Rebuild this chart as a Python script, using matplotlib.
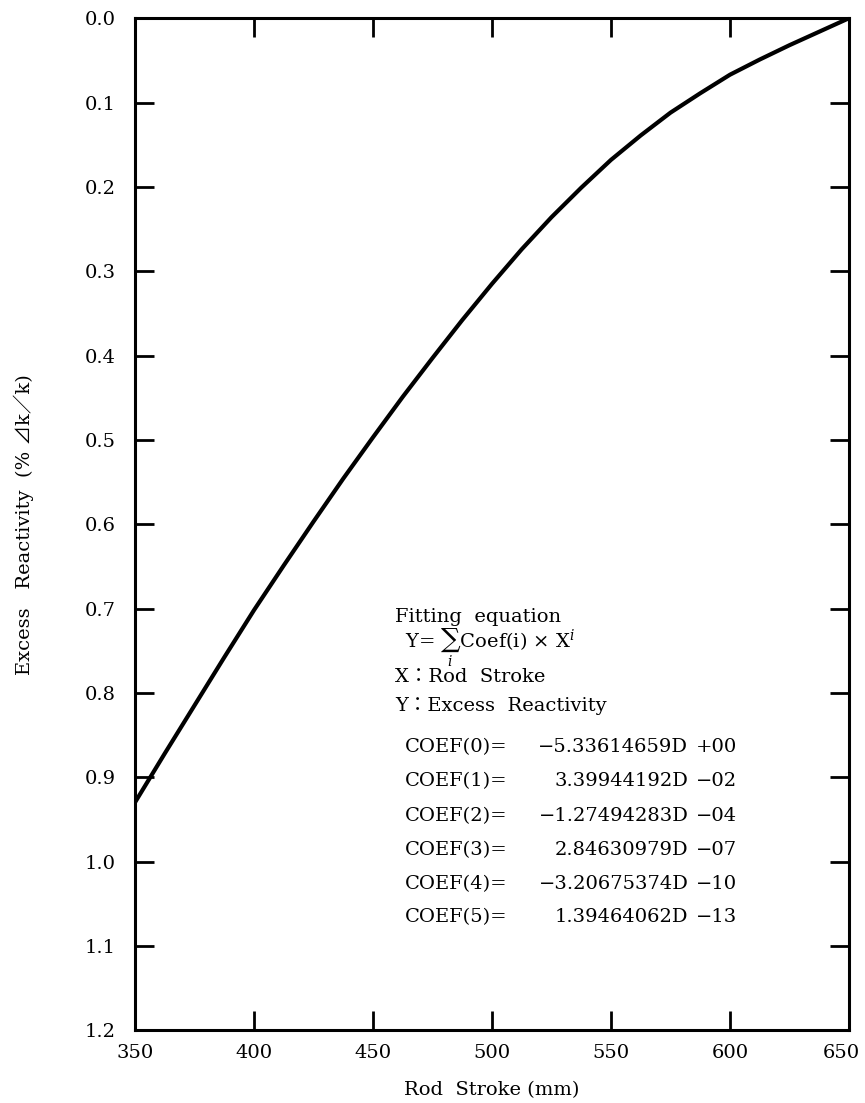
import matplotlib
matplotlib.use('Agg')
import matplotlib.pyplot as plt
import matplotlib.transforms as mtransforms

plt.rcParams['font.family'] = ['DejaVu Serif', 'Noto Sans CJK JP']
plt.rcParams['mathtext.fontset'] = 'dejavuserif'

# curve (rod stroke mm, excess reactivity %dk/k)
stroke = [350, 362.5, 375, 387.5, 400, 412.5, 425, 437.5, 450, 462.5, 475, 487.5,
          500, 512.5, 525, 537.5, 550, 562.5, 575, 587.5, 600, 612.5, 625, 637.5, 650]
reactivity = [0.930, 0.872, 0.815, 0.758, 0.702, 0.649, 0.597, 0.546, 0.497, 0.449,
              0.403, 0.358, 0.315, 0.274, 0.236, 0.201, 0.168, 0.139, 0.112, 0.089,
              0.067, 0.049, 0.032, 0.016, 0.000]

x_ticks = [350, 400, 450, 500, 550, 600, 650]
y_ticks = [0.0, 0.1, 0.2, 0.3, 0.4, 0.5, 0.6, 0.7, 0.8, 0.9, 1.0, 1.1, 1.2]

coef_names = ['COEF(0)=', 'COEF(1)=', 'COEF(2)=', 'COEF(3)=', 'COEF(4)=', 'COEF(5)=']
coef_mant = ['\u22125.33614659D', '3.39944192D', '\u22121.27494283D',
             '2.84630979D', '\u22123.20675374D', '1.39464062D']
coef_exp = ['+00', '\u221202', '\u221204', '\u221207', '\u221210', '\u221213']

fig = plt.figure(figsize=(8.65, 11.03), dpi=100)
ax = fig.add_axes([0.156, 0.066, 0.8255, 0.9175])

ax.plot(stroke, reactivity, color='black', lw=3.0, solid_capstyle='round')

ax.set_xlim(350, 650)
ax.set_ylim(1.2, 0.0)
ax.set_xticks(x_ticks)
ax.set_yticks(y_ticks)
ax.set_xticklabels([str(v) for v in x_ticks])
ax.set_yticklabels([f'{v:.1f}' for v in y_ticks])

for s in ax.spines.values():
    s.set_linewidth(2.2)

ax.tick_params(axis='both', direction='in', length=14, width=2.0,
               top=True, right=True, labelsize=14)
ax.tick_params(axis='x', pad=10)
ax.tick_params(axis='y', pad=14)

# keep the last x label inside the figure
last = ax.get_xticklabels()[-1]
last.set_transform(last.get_transform() +
                   mtransforms.ScaledTranslation(-8 / 100, 0, fig.dpi_scale_trans))

ax.set_xlabel('Rod  Stroke (mm)', fontsize=14, labelpad=14)
ax.set_ylabel('Excess   Reactivity  (% \u22bfk\uff0fk)', fontsize=14, labelpad=36)

fs = 14
T = ax.transAxes
ax.text(0.364, 0.408, 'Fitting  equation', fontsize=fs, transform=T, va='center')
ax.text(0.378, 0.378, r'Y= $\sum_{i}$Coef(i) $\times$ X$^{i}$', fontsize=fs, transform=T, va='center')
ax.text(0.364, 0.349, 'X\uff1aRod  Stroke', fontsize=fs, transform=T, va='center')
ax.text(0.364, 0.320, 'Y\uff1aExcess  Reactivity', fontsize=fs, transform=T, va='center')

rows_y = [0.280, 0.246, 0.212, 0.178, 0.144, 0.112]
for name, m, e, yy in zip(coef_names, coef_mant, coef_exp, rows_y):
    ax.text(0.378, yy, name, fontsize=fs, transform=T, va='center')
    ax.text(0.775, yy, m, fontsize=fs, transform=T, va='center', ha='right')
    ax.text(0.785, yy, e, fontsize=fs, transform=T, va='center', ha='left')

fig.savefig('out.png', dpi=100)
